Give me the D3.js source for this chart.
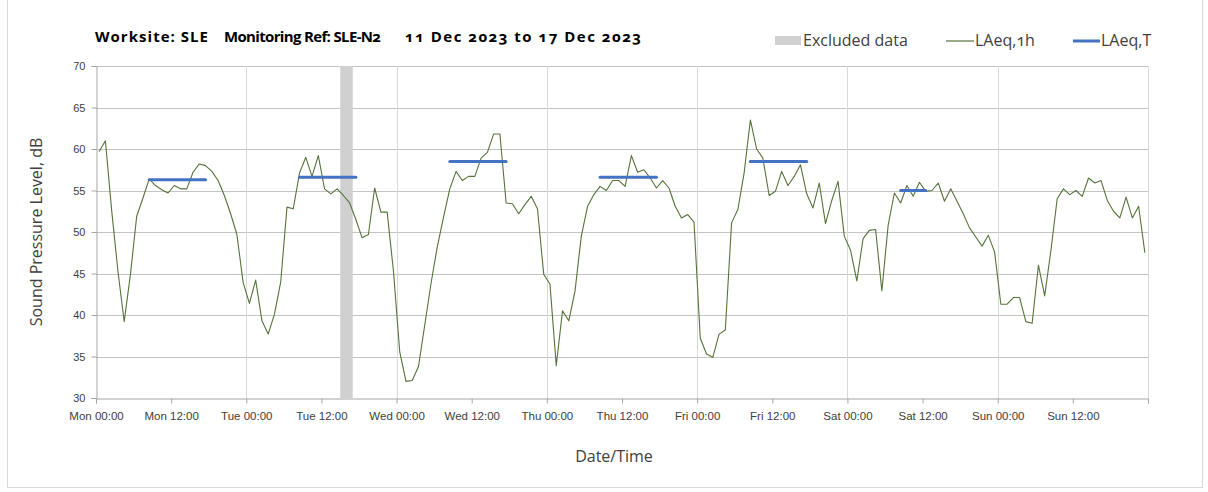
<!DOCTYPE html>
<html>
<head>
<meta charset="utf-8">
<script src="https://cdn.jsdelivr.net/npm/d3@7"></script>
<style>
  html, body { margin: 0; padding: 0; background: #fff; }
  svg { display: block; font-family: "Open Sans", "Noto Sans", sans-serif; }
</style>
</head>
<body>
<svg id="chart" width="1208" height="492"></svg>
<script>
// ---------- data ----------
const titleParts = ["Worksite: SLE", "Monitoring Ref: SLE-N2", "11 Dec 2023 to 17 Dec 2023"];
const tickLabels = ["Mon 00:00","Mon 12:00","Tue 00:00","Tue 12:00","Wed 00:00","Wed 12:00",
                    "Thu 00:00","Thu 12:00","Fri 00:00","Fri 12:00","Sat 00:00","Sat 12:00",
                    "Sun 00:00","Sun 12:00"];
const yTicks = [30,35,40,45,50,55,60,65,70];
// hourly LAeq,1h values, Mon 00:00 .. Sun 23:00 (168 hours)
const laeq1h = [
  59.7,61.0,52.6,45.3,39.2,44.9,51.9,54.1,56.4,55.6,55.1,54.7,55.6,55.2,55.2,57.2,58.2,58.0,57.3,56.2,54.4,52.2,49.7,43.9,
  41.4,44.2,39.3,37.7,40.1,44.0,53.0,52.8,57.1,59.0,56.7,59.2,55.2,54.6,55.2,54.4,53.5,51.5,49.3,49.7,55.3,52.4,52.4,45.3,
  35.6,32.0,32.1,33.8,38.8,43.8,48.2,51.8,55.2,57.3,56.2,56.7,56.7,58.9,59.6,61.8,61.8,53.5,53.4,52.2,53.3,54.3,52.8,44.9,
  43.7,33.9,40.5,39.3,42.9,49.5,53.1,54.5,55.5,55.0,56.2,56.2,55.5,59.2,57.2,57.5,56.5,55.3,56.2,55.3,53.1,51.7,52.1,51.2,
  37.2,35.3,34.9,37.7,38.2,51.1,52.7,57.1,63.5,60.0,58.9,54.4,54.9,57.3,55.6,56.7,58.1,54.6,52.9,55.9,51.0,53.8,56.1,49.5,
  47.8,44.1,49.2,50.2,50.3,42.9,50.8,54.7,53.5,55.6,54.3,56.0,54.9,55.0,55.9,53.7,55.2,53.7,52.2,50.5,49.4,48.3,49.6,47.6,
  41.3,41.3,42.1,42.1,39.2,39.0,46.0,42.3,47.8,54.0,55.2,54.5,55.0,54.3,56.5,55.9,56.2,53.8,52.5,51.7,54.2,51.7,53.1,47.5
];
// LAeq,T periods: day index, start hour, end hour, level
const periodDay   = [0,1,2,3,4,5];
const periodStart = [8,8,8,8,8,8];
const periodEnd   = [18,18,18,18,18,13];
const laeqT       = [56.3,56.6,58.5,56.6,58.5,55.0];
// excluded data (hours from Mon 00:00)
const excludedStart = [39];
const excludedEnd   = [41];

// ---------- layout ----------
const svg = d3.select("#chart");
const W = 1208, H = 492;
const m = {left: 96, right: 60, top: 66, bottom: 94};
const x = d3.scaleLinear().domain([0, 168]).range([m.left, W - m.right]);
const y = d3.scaleLinear().domain([30, 70]).range([H - m.bottom, m.top]);

// outer border
svg.append("rect").attr("x", 7.5).attr("y", -1).attr("width", 1195).attr("height", 488.5)
  .attr("fill", "#fff").attr("stroke", "#d9d9d9").attr("stroke-width", 1);

const g = svg.append("g");

// horizontal grid
g.append("g").selectAll("line").data(yTicks.filter(v => v > 30)).join("line")
  .attr("x1", x(0)).attr("x2", x(168))
  .attr("y1", d => Math.round(y(d)) + 0.5).attr("y2", d => Math.round(y(d)) + 0.5)
  .attr("stroke", "#c4c4c4").attr("stroke-width", 1);

// vertical grid (days)
g.append("g").selectAll("line").data(d3.range(24, 169, 24)).join("line")
  .attr("x1", d => Math.round(x(d)) + 0.5).attr("x2", d => Math.round(x(d)) + 0.5)
  .attr("y1", y(70)).attr("y2", y(30))
  .attr("stroke", "#d9d9d9").attr("stroke-width", 1);

// excluded band
g.append("g").selectAll("rect").data(excludedStart).join("rect")
  .attr("x", (d) => x(d)).attr("width", (d, i) => x(excludedEnd[i]) - x(d))
  .attr("y", y(70)).attr("height", y(30) - y(70))
  .attr("fill", "#d0d0d0");

// axes
const yAxis = d3.axisLeft(y).tickValues(yTicks).tickSize(5).tickFormat(d3.format("d"));
const ya = g.append("g").attr("transform", `translate(${m.left + 0.5},0)`).call(yAxis);
ya.select(".domain").attr("stroke", "#a6a6a6");
ya.selectAll(".tick line").attr("stroke", "#a6a6a6");
ya.selectAll(".tick text").attr("font-size", 11).attr("fill", "#404040").attr("x", -11)
  .style("font-variant-numeric", "oldstyle-nums");

const xTickVals = d3.range(0, 169, 12);
const xAxis = d3.axisBottom(x).tickValues(xTickVals).tickSize(5)
  .tickFormat((d, i) => tickLabels[i] || "");
const xa = g.append("g").attr("transform", `translate(0,${Math.round(y(30)) + 0.5})`).call(xAxis);
xa.select(".domain").attr("stroke", "#a6a6a6");
xa.selectAll(".tick line").attr("stroke", "#a6a6a6");
xa.selectAll(".tick text").attr("font-size", 11.5).attr("fill", "#404040").attr("dy", "1.15em")
  .style("font-variant-numeric", "oldstyle-nums");

// LAeq,1h line
const line = d3.line().x((d, i) => x(i + 0.5)).y(d => y(d));
g.append("path").datum(laeq1h).attr("d", line)
  .attr("fill", "none").attr("stroke", "#56733a").attr("stroke-width", 1.1)
  .attr("stroke-linejoin", "round");

// LAeq,T segments
g.append("g").selectAll("line").data(laeqT).join("line")
  .attr("x1", (d, i) => x(periodDay[i] * 24 + periodStart[i] + 0.5))
  .attr("x2", (d, i) => x(periodDay[i] * 24 + periodEnd[i] - 0.5))
  .attr("y1", d => y(d)).attr("y2", d => y(d))
  .attr("stroke", "#4472c4").attr("stroke-width", 3).attr("stroke-linecap", "round");

// title
const titleX = [95, 224, 405];
const titleLen = [113, 157, 236];
svg.append("g").selectAll("text").data(titleParts).join("text")
  .attr("x", (d, i) => titleX[i]).attr("y", 42)
  .attr("font-size", 15).attr("font-weight", "bold").attr("fill", "#000")
  .attr("textLength", (d, i) => titleLen[i]).attr("lengthAdjust", "spacing")
  .style("font-variant-numeric", "oldstyle-nums")
  .text(d => d);

// legend
const lg = svg.append("g").attr("font-size", 16).attr("fill", "#404040");
lg.append("rect").attr("x", 775).attr("y", 36).attr("width", 26).attr("height", 9).attr("fill", "#d0d0d0");
lg.append("text").attr("x", 803).attr("y", 46).text("Excluded data");
lg.append("line").attr("x1", 946).attr("x2", 974).attr("y1", 41).attr("y2", 41)
  .attr("stroke", "#56733a").attr("stroke-width", 1.2);
lg.append("text").attr("x", 975).attr("y", 46).text("LAeq,1h").style("font-variant-numeric", "oldstyle-nums");
lg.append("line").attr("x1", 1073).attr("x2", 1100).attr("y1", 41).attr("y2", 41)
  .attr("stroke", "#4472c4").attr("stroke-width", 3);
lg.append("text").attr("x", 1101).attr("y", 46).text("LAeq,T");

// axis titles
svg.append("text").attr("x", 614).attr("y", 462).attr("text-anchor", "middle")
  .attr("font-size", 16).attr("fill", "#404040").text("Date/Time");
svg.append("text").attr("transform", `translate(42,232) rotate(-90)`).attr("text-anchor", "middle")
  .attr("font-size", 16).attr("fill", "#404040").text("Sound Pressure Level, dB");
</script>
</body>
</html>
